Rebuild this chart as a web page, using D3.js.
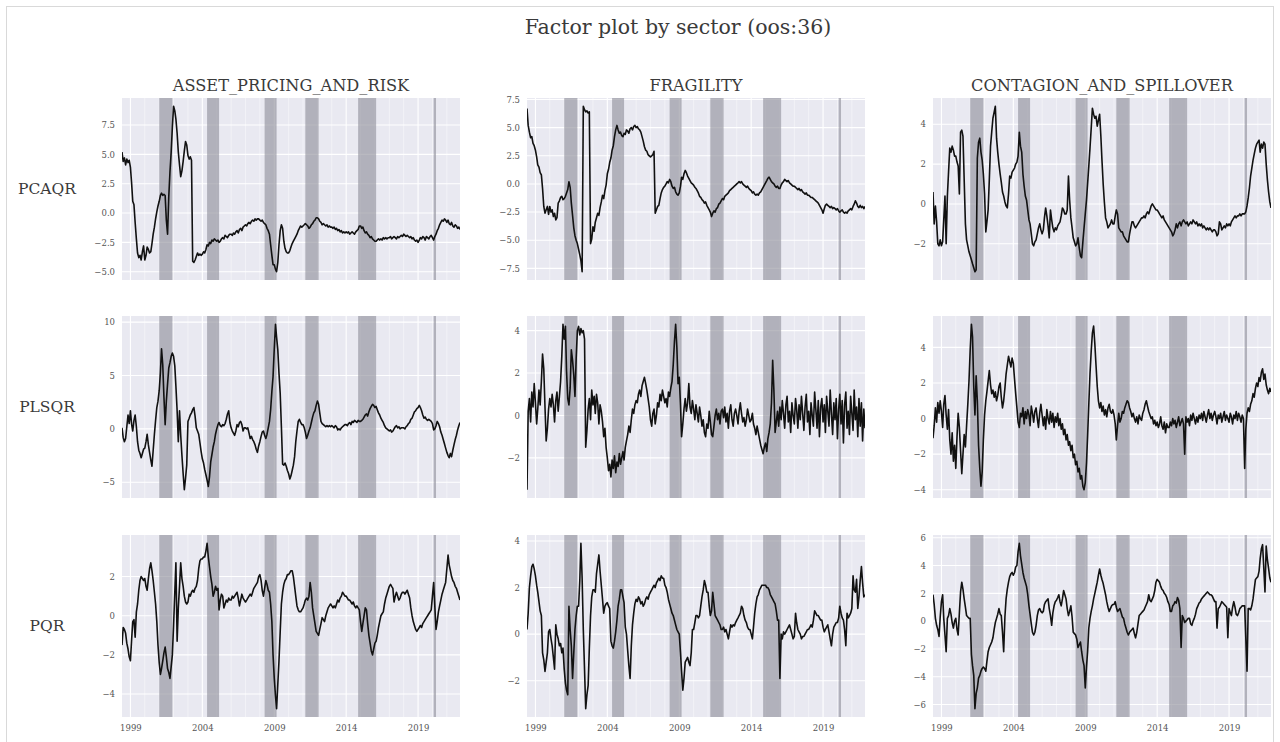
<!DOCTYPE html>
<html>
<head>
<meta charset="utf-8">
<script src="https://cdn.jsdelivr.net/npm/d3@7"></script>
<style>
  body { margin: 0; background: #ffffff; }
  svg { display: block; }
  text { font-family: "DejaVu Serif", "Liberation Serif", serif; }
</style>
</head>
<body>
<svg id="chart" width="1280" height="742"></svg>
<script>
// ---- data -------------------------------------------------------------
const chartTitle = "Factor plot by sector (oos:36)";
const sectors = ["ASSET_PRICING_AND_RISK", "FRAGILITY", "CONTAGION_AND_SPILLOVER"];
const methods = ["PCAQR", "PLSQR", "PQR"];

// monthly observations, first one is June 1998, last one December 2021
const firstMonth = [1998, 5];
const xTickYears = [1999, 2004, 2009, 2014, 2019];

// shaded stress periods
const bandStarts = ["2001-01-01", "2004-05-01", "2008-05-01", "2011-03-01", "2014-11-01", "2020-02-01"];
const bandEnds   = ["2001-12-01", "2005-03-01", "2009-03-01", "2012-02-01", "2016-02-01", "2020-04-01"];

// PCAQR
const pcaqrAsset = [
  5.2, 4.4, 4.7, 4.1, 4.6, 4.3, 4.5,
  3.9, 2.5, 1.0, 0.7, -0.8, -2.2, -3.4, -3.8, -3.6, -4.0, -3.3, -2.8,
  -4.0, -3.6, -2.9, -3.1, -3.4, -3.3, -2.6, -1.8, -1.2, -0.5, 0.1, 0.6,
  1.0, 1.5, 1.7, 1.5, 1.6, 1.5, -0.6, -1.8, 1.4, 3.5, 5.2, 7.3,
  9.1, 8.7, 8.0, 6.8, 5.2, 4.1, 3.1, 3.6, 4.4, 5.3, 6.1, 5.8,
  4.9, 4.6, 4.8, 4.5, -4.1, -4.2, -4.0, -3.7, -3.4, -3.6, -3.5, -3.6,
  -3.5, -3.3, -3.4, -3.1, -2.7, -2.8, -2.5, -2.6, -2.3, -2.4, -2.2, -2.3,
  -2.4, -2.3, -2.5, -2.4, -2.2, -2.1, -2.2, -1.9, -2.0, -2.1, -1.9, -1.8,
  -1.8, -1.9, -1.7, -1.8, -1.6, -1.5, -1.7, -1.4, -1.3, -1.5, -1.2, -1.1,
  -1.0, -1.1, -0.9, -0.8, -0.9, -0.7, -0.6, -0.7, -0.5, -0.6, -0.5, -0.5,
  -0.6, -0.7, -0.6, -0.8, -0.9, -1.0, -1.3, -1.5, -1.8, -2.7, -3.6, -4.4,
  -4.4, -4.8, -5.0, -4.2, -2.7, -1.5, -1.0, -1.3, -2.4, -3.0, -3.3, -3.4,
  -3.4, -3.2, -2.9, -2.6, -2.4, -2.2, -2.0, -1.8, -1.5, -1.3, -1.1, -1.2,
  -1.1, -1.0, -0.9, -1.0, -1.1, -1.3, -1.2, -1.0, -0.9, -0.7, -0.6, -0.4,
  -0.4, -0.5, -0.7, -0.8, -1.0, -0.9, -1.0, -1.1, -1.0, -1.2, -1.1, -1.2,
  -1.2, -1.3, -1.2, -1.4, -1.3, -1.5, -1.4, -1.6, -1.5, -1.7, -1.6, -1.7,
  -1.6, -1.7, -1.6, -1.8, -1.7, -1.6, -1.7, -1.8, -1.6, -1.5, -1.4, -1.1,
  -1.1, -1.3, -1.2, -1.5, -1.7, -1.6, -1.8, -1.9, -2.1, -2.0, -2.2, -2.3,
  -2.4, -2.4, -2.3, -2.2, -2.3, -2.2, -2.3, -2.1, -2.2, -2.1, -2.2, -2.1,
  -2.1, -2.0, -2.2, -2.1, -2.0, -2.1, -2.2, -2.0, -2.1, -2.0, -1.9, -2.0,
  -1.8, -1.9, -2.0, -1.9, -2.0, -2.1, -2.0, -2.2, -2.1, -2.3, -2.4, -2.3,
  -2.5, -2.3, -2.1, -2.2, -2.0, -2.1, -2.3, -2.0, -2.1, -2.2, -2.0, -1.9,
  -2.1, -2.3, -2.0, -1.8, -1.5, -1.3, -1.0, -0.8, -0.6, -0.7, -0.5, -0.6,
  -0.8, -0.6, -0.9, -1.0, -0.8, -1.1, -1.2, -1.0, -1.1, -1.3, -1.2, -1.4
];
const pcaqrFragility = [
  6.7, 5.2, 4.6, 4.1, 4.2, 3.6, 3.4,
  3.0, 2.4, 1.7, 1.5, 1.0, 0.8, -0.4, -2.0, -2.6, -2.3, -2.0, -2.7,
  -2.0, -2.5, -2.3, -2.9, -2.6, -3.2, -3.0, -1.7, -1.5, -1.2, -1.1, -1.4,
  -1.3, -1.1, -0.8, -0.5, 0.2, -0.3, -1.7, -2.8, -3.9, -4.6, -5.0, -5.3,
  -5.8, -6.3, -6.8, -7.8, 6.9, 6.6, 6.4, 6.5, 6.3, 6.4, -5.3, -4.9,
  -3.8, -4.2, -3.4, -3.0, -2.6, -2.8, -2.1, -1.6, -1.0, -1.3, -0.6, -0.1,
  0.9, 1.3, 1.9, 2.3, 3.0, 3.4, 4.2, 4.8, 5.2, 4.8, 4.5, 4.6,
  4.3, 4.2, 4.5, 4.4, 4.8, 4.7, 4.5, 4.9, 5.0, 4.8, 5.1, 5.2,
  5.0, 5.1, 4.9, 4.8, 4.6, 4.2, 3.8, 3.3, 3.0, 2.9, 2.6, 2.5,
  2.4, 2.5, 2.6, 2.9, -2.6, -2.3, -2.0, -1.9, -1.3, -0.8, -0.5, -0.3,
  -0.2, 0.0, 0.2, 0.1, 0.4, 0.2, -0.2, -0.4, -0.3, -0.7, -0.9, -1.0,
  -0.8, -0.2, 0.6, 0.4, 0.9, 1.2, 1.0, 0.7, 0.5, 0.3, 0.1, 0.0,
  -0.1, -0.3, -0.4, -0.6, -0.8, -1.1, -1.2, -1.4, -1.5, -1.7, -1.6, -1.9,
  -2.1, -2.3, -2.5, -2.9, -2.6, -2.4, -2.5, -2.2, -2.1, -1.8, -1.7, -1.5,
  -1.3, -1.4, -1.1, -1.0, -0.9, -0.8, -0.6, -0.5, -0.4, -0.3, -0.2, -0.1,
  0.0, 0.1, 0.2, 0.1, 0.2, 0.0, -0.1, -0.2, -0.3, -0.2, -0.4, -0.5,
  -0.6, -0.8, -0.7, -0.9, -1.0, -0.9, -1.0, -0.8, -0.7, -0.5, -0.3, -0.1,
  0.1, 0.3, 0.5, 0.6, 0.4, 0.2, 0.1, 0.0, -0.2, -0.3, -0.2, -0.4,
  -0.4, -0.1, 0.1, 0.2, 0.4, 0.3, 0.2, 0.3, 0.1, 0.0, -0.1, -0.2,
  -0.2, -0.3, -0.4, -0.5, -0.4, -0.6, -0.5, -0.7, -0.8, -0.9, -0.8, -1.0,
  -1.0, -1.1, -1.2, -1.2, -1.3, -1.4, -1.5, -1.6, -1.7, -1.9, -2.1, -2.3,
  -2.6, -2.2, -1.9, -1.8, -1.9, -2.0, -2.1, -2.0, -2.2, -2.1, -2.2, -2.3,
  -2.2, -2.4, -2.5, -2.4, -2.3, -2.5, -2.6, -2.5, -2.6, -2.4, -2.3, -2.2,
  -2.3, -2.0, -1.8, -1.5, -1.7, -2.0, -2.1, -1.9, -2.1, -2.0, -2.2, -2.0
];
const pcaqrContagion = [
  0.6, -1.0, -0.1, -0.9, -2.0, -2.1, -1.8,
  -2.1, -1.9, -0.8, 0.4, -2.0, 0.4, 1.6, 2.8, 2.6, 2.9, 2.7, 2.4,
  2.4, 2.1, 1.9, 0.5, 3.6, 3.7, 3.4, 1.2, -1.0, -1.8, -2.1, -2.4,
  -2.6, -2.8, -3.0, -3.2, -3.4, -3.3, 2.3, 3.1, 3.3, 2.6, 2.2, 1.5,
  0.5, -1.4, -0.9, -0.3, 1.2, 2.9, 3.6, 4.3, 4.6, 4.9, 3.3, 2.6,
  2.0, 1.5, 1.1, 0.6, 0.4, 0.1, -0.1, -0.2, 0.5, 1.4, 1.3, 1.6,
  1.7, 1.8, 2.0, 2.1, 2.4, 3.6, 2.9, 2.6, 1.5, 0.9, 0.4, 0.2,
  -0.3, -0.8, -1.0, -1.5, -2.0, -2.1, -1.9, -1.8, -1.5, -1.2, -1.0, -1.3,
  -1.5, -1.3, -0.7, -0.2, -0.6, -1.1, -1.7, -0.3, -0.8, -1.2, -1.4, -1.2,
  -1.3, -1.1, -1.0, -0.9, -0.6, -0.2, -0.3, -0.5, -0.5, -0.3, 1.4, 0.2,
  -0.7, -1.2, -1.7, -1.9, -2.1, -2.0, -1.7, -2.2, -2.6, -2.7, -1.9, -1.2,
  -0.5, 0.2, 1.0, 1.9, 2.8, 3.8, 4.8, 4.5, 4.3, 4.4, 3.9, 4.2,
  4.5, 3.4, 2.2, 1.0, 0.1, -0.7, -0.9, -1.2, -1.1, -1.0, -0.8, -1.0,
  -1.0, -0.6, -0.3, -0.5, -1.2, -1.3, -1.4, -1.4, -1.6, -1.7, -1.8, -1.9,
  -1.9, -1.5, -1.2, -0.9, -0.9, -1.1, -1.2, -1.1, -1.0, -0.9, -0.8, -0.7,
  -0.7, -0.6, -0.7, -0.5, -0.4, -0.5, -0.3, -0.1, 0.0, -0.1, -0.2, -0.3,
  -0.3, -0.4, -0.5, -0.6, -0.7, -0.6, -0.8, -0.9, -1.0, -1.1, -1.2, -1.3,
  -1.4, -1.6, -1.5, -1.3, -1.0, -1.2, -1.0, -0.9, -1.1, -0.9, -0.8, -0.9,
  -1.0, -0.9, -1.1, -1.0, -0.9, -1.0, -0.8, -0.9, -1.0, -0.9, -1.1, -1.0,
  -1.1, -1.0, -1.2, -1.1, -1.2, -1.3, -1.2, -1.3, -1.2, -1.3, -1.4, -1.3,
  -1.3, -1.4, -1.6, -1.5, -0.9, -1.0, -1.3, -1.2, -1.1, -1.2, -1.0, -1.1,
  -1.0, -1.1, -0.9, -0.8, -0.7, -0.6, -0.7, -0.6, -0.6, -0.5, -0.6, -0.5,
  -0.5, -0.5, -0.4, -0.1, 0.3, 0.8, 1.4, 1.8, 2.2, 2.5, 2.8, 3.0,
  3.1, 3.2, 2.6, 3.0, 2.8, 3.1, 3.0, 2.0, 1.2, 0.6, 0.1, -0.2
];

// PLSQR
const plsqrAsset = [
  0.1, -0.8, -1.2, -0.9, 0.2, 1.3, 0.5,
  1.7, 0.4, -0.2, 0.8, 1.3, 0.2, -1.2, -2.0, -2.3, -2.7, -2.3, -1.9,
  -1.8, -1.2, -0.5, -1.5, -2.2, -2.9, -3.5, -2.0, -0.5, 0.8, 2.0, 2.6,
  3.6, 5.3, 7.5, 6.0, 3.0, 0.4, 2.6, 4.2, 5.7, 6.2, 6.8, 7.1,
  6.8, 5.9, 4.0, 1.7, -1.2, 1.7, -0.6, -2.5, -4.2, -5.7, -4.6, -3.4,
  0.7, 1.0, 1.3, 1.5, 1.8, 2.0, 1.2, 0.1, -0.2, -0.5, -1.3, -2.1,
  -2.8, -3.2, -3.8, -4.3, -4.8, -5.4, -4.5, -3.1, -2.4, -1.7, -1.2, -0.5,
  0.0, 0.4, 0.6, 0.3, 0.2, 0.4, 0.3, 0.5, 0.9, 1.4, 1.7, 0.6,
  0.1, -0.2, -0.4, -0.6, -0.2, 0.4, 0.2, 0.6, 0.7, 0.4, -0.2, 0.1,
  0.1, 0.0, 0.1, -0.4, -0.9, -0.7, -1.0, -1.2, -1.5, -1.9, -2.2, -1.6,
  -1.2, -0.7, -0.3, -0.2, -0.6, -0.9, -0.5, 0.1, 0.7, 1.8, 3.5, 4.9,
  7.5, 9.8, 8.6, 7.4, 5.2, 3.3, 0.2, -3.3, -3.4, -3.2, -3.5, -3.9,
  -4.2, -4.7, -4.4, -3.9, -3.4, -2.6, -1.2, -0.2, 0.7, 0.9, 0.6, 0.4,
  0.4, 0.1, -0.3, -0.9, -0.6, -0.2, 0.1, 0.6, 1.1, 1.5, 1.7, 2.2,
  2.6, 2.3, 1.5, 0.7, 0.5, 0.4, 0.3, 0.2, 0.3, 0.2, 0.3, 0.2,
  0.3, 0.2, 0.1, 0.3, 0.2, -0.1, 0.0, -0.1, 0.1, 0.2, 0.3, 0.4,
  0.4, 0.3, 0.5, 0.6, 0.4, 0.7, 0.6, 0.8, 0.7, 0.6, 0.8, 0.7,
  0.7, 0.8, 0.9, 1.1, 1.3, 1.4, 1.2, 1.6, 1.9, 2.1, 2.3, 2.2,
  2.0, 2.1, 1.8, 1.5, 1.3, 1.0, 0.8, 0.6, 0.3, 0.1, 0.0, -0.1,
  -0.2, -0.1, -0.3, -0.2, 0.0, 0.2, 0.3, 0.1, 0.2, 0.0, 0.1, 0.1,
  0.1, 0.0, 0.2, 0.3, 0.5, 0.6, 0.9, 1.0, 1.3, 1.6, 1.7, 1.9,
  2.0, 2.2, 2.0, 1.7, 1.3, 1.0, 1.1, 0.9, 0.8, 0.9, 0.8, 0.7,
  0.5, -0.1, 0.0, 0.3, 0.7, 0.5, 0.2, -0.3, -0.6, -1.0, -1.4, -1.8,
  -2.2, -2.5, -2.7, -2.3, -2.6, -2.0, -1.5, -1.0, -0.6, -0.1, 0.3, 0.6
];
const plsqrFragility = [
  -3.5, 0.2, 0.8, -0.3, 1.1, 0.4, 1.5,
  0.6, -0.4, 0.3, 1.2, 0.5, 1.6, 2.9, 2.2, 0.4, -1.2, -0.6, 0.3,
  0.8, 0.4, 1.0, 0.5, -0.3, 0.7, 1.1, 0.2, 0.9, 1.6, 2.8, 4.3,
  3.6, 4.2, 2.1, 0.8, 0.5, 1.3, 3.1, 2.6, 1.9, 0.9, 2.7, 4.0,
  4.2, 3.8, 4.1, 3.9, 4.0, 3.6, -1.5, -0.7, 0.3, 0.8, -0.2, 1.2,
  0.5, 0.9, 0.1, 1.0, 0.6, -0.4, 0.5, 0.2, -0.3, -1.0, -0.6, -1.5,
  -2.0, -2.6, -2.3, -2.9, -2.1, -2.5, -1.9, -2.7, -2.2, -2.4, -1.8, -2.3,
  -2.0, -1.7, -2.1, -1.5, -1.2, -0.9, -0.5, -0.8, -0.2, 0.3, 0.1, 0.5,
  0.7, 0.6, 1.0, 1.2, 0.9, 1.4, 1.6, 1.8, 1.5, 1.2, 0.8, 0.4,
  -0.2, -0.5, 0.1, 0.3, -0.4, 0.0, 0.6, 0.4, 1.0, 0.7, 1.2, 0.9,
  0.6, 0.8, 0.4, 1.1, 0.9, 1.3, 1.6, 2.4, 3.5, 4.3, 3.2, 1.5,
  1.8, 0.5, -1.0, -0.4, 0.3, 0.8, 0.2, 0.6, 1.5, 0.4, 0.1, 0.7,
  0.3, -0.2, 0.5, 0.1, -0.3, 0.4, 0.0, -0.5, -0.2, -0.8, -1.0, -0.4,
  -0.6, 0.2, -0.3, -0.9, -1.0, -0.5, 0.0, 0.3, -0.2, 0.1, -0.4, 0.2,
  0.3, -0.1, 0.4, -0.3, 0.1, -0.6, 0.2, 0.5, -0.2, -0.5, 0.1, 0.3,
  0.0, -0.4, 0.2, 0.6, 0.1, -0.3, -0.1, -0.5, -0.2, 0.3, 0.0, -0.3,
  -0.2, 0.1, -0.4, -0.6, -0.9, -0.5, -0.8, -1.1, -1.4, -1.6, -1.8, -1.5,
  -1.3, -1.7, -1.1, -0.8, -0.4, 0.6, 2.6, 1.2, -0.8, -0.3, 0.2, -0.5,
  0.4, -0.2, 0.7, 0.1, -0.6, 0.5, 0.9, -0.3, 0.2, -0.8, 0.6, 0.0,
  -0.4, 0.8, 0.3, -0.6, 0.5, -0.2, 0.9, 0.1, -0.7, 0.4, 1.0, -0.3,
  0.2, -0.9, 0.6, 0.0, -0.5, 1.1, 0.3, -0.6, 0.7, -1.0, 0.4, 0.8,
  -0.3, 0.5, -0.8, 0.9, 0.2, -0.5, 1.2, 0.1, -0.9, 0.6, -0.2, 0.8,
  -1.1, 0.3, 1.0, -0.4, 0.7, -1.3, 0.5, 1.1, -0.6, 0.2, -0.9, 0.9,
  0.1, -0.7, 1.2, -0.2, 0.4, -1.0, 0.8, -0.5, 0.6, -1.2, 0.3, -0.6
];
const plsqrContagion = [
  -1.1, -0.4, 0.6, -0.2, 0.9, 0.3, 1.0,
  0.4, -0.5, 0.8, 1.3, 0.2, -0.6, 0.5, -1.2, -2.0, -0.8, -2.4, -1.5,
  -2.8, -1.0, 0.3, -0.5, -1.8, -3.1, -2.0, -0.9, -1.6, -0.4, 0.8, 2.1,
  3.9, 5.3, 4.6, 1.8, 0.2, 2.4, 1.0, -1.5, -2.8, -3.8, -3.0, -1.2,
  0.2, 1.0, 1.5, 2.1, 2.7, 1.9, 1.4, 1.6, 1.2, 1.5, 1.0, 1.3,
  1.8, 2.0, 1.2, 0.6, 1.0, 1.7, 2.5, 3.0, 3.5, 3.2, 2.9, 3.4,
  3.1, 2.2, 1.4, 0.6, -0.2, -0.5, 0.3, 0.1, 0.6, -0.3, 0.4, 0.0,
  0.5, 0.2, -0.4, 0.7, 0.3, -0.2, 0.4, 0.6, 0.0, -0.5, 0.3, 0.8,
  0.2, -0.4, 0.1, -0.6, 0.5, 0.0, -0.3, 0.4, -0.2, 0.3, -0.5, 0.1,
  -0.2, 0.3, -0.4, 0.0, -0.6, -0.3, -0.9, -0.6, -1.2, -0.9, -1.5, -1.3,
  -1.8, -1.5, -2.2, -2.0, -2.6, -2.4, -3.0, -2.8, -3.4, -3.2, -3.8, -4.0,
  -3.6, -2.5, -1.0, 0.8, 2.5, 3.8, 4.8, 5.2, 4.2, 3.0, 1.8, 1.0,
  0.6, 0.9, 0.4, 0.7, 0.2, 0.5, 0.1, 0.6, 0.8, 0.4, 0.3, 0.5,
  0.2, -0.3, -1.2, -0.4, 0.3, -0.2, 0.0, 0.4, 0.3, 0.6, 0.8, 1.0,
  0.9, 0.6, 0.4, 0.1, 0.3, 0.0, -0.2, 0.1, -0.3, 0.2, 0.0, -0.1,
  0.3, 0.5, 0.8, 1.0, 0.7, 0.4, 0.2, 0.0, 0.1, -0.3, -0.1, -0.4,
  -0.2, -0.5, -0.3, 0.1, -0.4, -0.6, -0.2, -0.8, -0.3, -0.5, -0.5, -0.2,
  -0.4, 0.0, -0.3, -0.1, -0.5, -0.2, 0.1, -0.4, -0.2, 0.0, -0.3, -2.0,
  0.1, -0.2, 0.0, -0.4, 0.2, -0.1, 0.3, 0.0, -0.3, 0.1, -0.2, 0.2,
  0.0, 0.3, -0.1, 0.4, 0.1, -0.2, 0.2, 0.5, 0.0, 0.3, -0.1, 0.2,
  0.4, 0.1, -0.3, 0.2, 0.0, 0.3, -0.2, 0.1, 0.4, -0.1, 0.2, 0.0,
  -0.2, 0.3, 0.1, -0.3, 0.2, 0.0, 0.4, -0.1, 0.3, 0.1, -0.2, 0.2,
  0.0, -2.8, -0.6, 0.3, 0.6, 0.4, 0.8, 1.0, 1.4, 1.2, 1.7, 2.0,
  1.8, 2.3, 2.1, 2.6, 2.8, 2.2, 2.5, 1.9, 1.6, 1.4, 1.7, 1.5
];

// PQR
const pqrAsset = [
  -1.5, -0.6, -0.7, -0.9, -1.4, -1.7, -2.1,
  -2.3, -1.2, -0.3, -0.2, -1.1, 0.2, 0.6, 1.3, 1.8, 2.0, 1.9, 1.8,
  1.9, 1.5, 1.3, 1.9, 2.4, 2.7, 2.3, 1.8, 1.2, 0.6, -0.3, -1.5,
  -2.4, -3.0, -2.7, -2.3, -1.9, -1.6, -2.1, -2.7, -2.9, -3.2, -2.6, -2.0,
  -0.5, 1.2, 2.7, -1.3, 0.4, 1.5, 2.7, 1.9, 1.5, 1.0, 0.7, 0.6,
  0.7, 1.1, 1.0, 1.2, 1.3, 1.2, 1.4, 1.5, 1.8, 2.4, 2.8, 2.9,
  2.9, 3.0, 3.0, 3.3, 3.7, 3.0, 2.5, 2.0, 1.6, 1.0, 1.2, 1.5,
  1.3, 1.4, 0.3, 0.8, 1.1, 1.0, 0.4, 0.6, 0.8, 0.7, 0.9, 0.8,
  0.8, 1.0, 0.9, 1.0, 1.1, 1.2, 0.9, 0.5, 0.8, 1.1, 0.9, 0.8,
  0.7, 0.8, 0.9, 1.0, 1.1, 1.0, 1.2, 1.4, 1.5, 1.6, 1.7, 2.0,
  2.1, 1.8, 1.3, 1.0, 1.4, 1.8, 1.6, 1.3, 1.2, 0.6, -0.3, -2.0,
  -3.2, -4.1, -4.75, -3.5, -2.3, -0.8, 0.6, 1.2, 1.6, 1.8, 1.9, 2.1,
  2.1, 2.2, 2.3, 2.3, 2.0, 1.5, 1.0, 0.5, 0.3, 0.2, 0.2, 0.3,
  0.4, 0.6, 0.8, 0.9, 0.8, 1.0, 1.7, 1.2, 0.4, 0.0, -0.4, -0.8,
  -0.9, -1.0, -0.7, -0.4, -0.1, -0.2, -0.3, 0.0, 0.2, 0.4, 0.5, 0.6,
  0.5, 0.4, 0.5, 0.4, 0.6, 0.8, 0.7, 0.9, 1.0, 1.2, 1.1, 1.0,
  1.0, 0.9, 0.8, 0.8, 0.7, 0.6, 0.7, 0.5, 0.4, 0.5, 0.4, 0.3,
  -0.3, -0.8, -0.4, 0.0, 0.4, 0.3, -0.4, -1.0, -1.4, -1.8, -2.0, -1.7,
  -1.4, -1.3, -1.0, -0.6, -0.3, 0.0, 0.1, 0.2, 0.6, 0.9, 1.1, 1.3,
  1.5, 1.6, 1.5, 1.4, 0.7, 1.0, 1.2, 1.0, 0.8, 0.9, 1.1, 1.2,
  1.2, 1.1, 1.2, 1.3, 1.1, 0.9, 0.4, 0.0, -0.3, -0.5, -0.7, -0.8,
  -0.7, -0.6, -0.5, -0.6, -0.4, -0.3, -0.2, -0.1, 0.0, 0.1, 0.2, 0.3,
  1.0, 1.7, 0.5, -0.7, -0.3, 0.2, 0.5, 0.8, 1.1, 1.3, 1.5, 1.7,
  2.4, 3.1, 2.6, 2.3, 2.0, 1.8, 1.7, 1.5, 1.4, 1.2, 1.0, 0.8
];
const pqrFragility = [
  0.2, 0.9, 2.0, 2.5, 2.9, 3.0, 2.8,
  2.5, 2.1, 1.8, 1.4, 1.0, 0.8, -0.8, -1.1, -1.6, -1.2, -0.8, 0.1,
  0.2, -0.2, -0.5, -1.0, -1.5, 0.4, 0.0, -0.2, -0.5, -0.4, -0.8, -0.6,
  -1.5, -2.1, -2.4, -2.6, 1.2, 0.2, -0.5, -1.9, -0.8, 0.2, 0.8, 1.2,
  1.2, 2.3, 3.9, 2.4, 0.2, -1.5, -3.2, -2.6, -2.2, -0.6, 0.8, 1.6,
  1.9, 1.9, 1.8, 2.6, 3.0, 3.4, 2.7, 2.1, 1.5, 0.9, 1.2, 1.3,
  1.35, 1.2, 1.1, -0.3, -0.5, -0.6, -0.3, 0.1, 0.6, 1.2, 1.5, 1.9,
  1.9, 1.6, 1.35, 0.3, 0.0, -0.7, -1.35, -1.9, -0.5, 0.4, 0.9, 1.3,
  1.5, 1.4, 1.6, 1.5, 1.3, 1.4, 1.2, 1.3, 1.5, 1.6, 1.5, 1.7,
  1.8, 1.9, 2.0, 2.1, 2.0, 2.2, 2.3, 2.4, 2.3, 2.5, 2.4, 2.4,
  2.1, 2.0, 1.8, 1.5, 1.3, 1.1, 0.9, 0.8, 0.6, 0.4, 0.2, 0.1,
  0.0, -0.8, -1.6, -2.4, -1.9, -1.2, -1.1, -1.0, -1.2, -1.35, -0.8, 0.2,
  0.2, 0.5, 0.8, 0.8, 0.7, 0.8, 1.2, 1.6, 1.9, 2.3, 2.1, 1.8,
  1.8, 1.2, 0.8, 1.0, 1.8, 1.3, 0.8, 0.7, 0.6, 0.5, 0.4, 0.2,
  0.2, 0.3, 0.1, 0.2, 0.0, -0.2, 0.1, 0.4, 0.3, 0.4, 0.35, 0.5,
  0.6, 0.7, 0.8, 0.9, 1.2, 1.1, 0.8, 0.6, 0.5, 0.3, 0.2, 0.2,
  0.0, -0.2, 0.3, 0.9, 1.3, 1.6, 1.7, 1.9, 2.0, 2.1, 2.1, 2.1,
  2.1, 2.0, 2.0, 1.9, 1.7, 1.6, 1.5, 1.4, 1.3, 1.0, 0.6, 0.6,
  -1.9, 0.0, -0.2, 0.1, 0.0, 0.1, 0.2, 0.3, 0.4, 0.2, 0.0, -0.2,
  -0.1, 0.9, 0.5, 0.2, 0.1, 0.0, -0.2, -0.1, -0.1, 0.0, 0.1, 0.2,
  0.2, 0.3, 0.4, 0.3, 0.6, 1.0, 0.9, 0.8, 0.8, 0.7, 0.6, 0.6,
  0.3, 0.1, 0.2, 0.3, 0.4, 0.1, -0.2, -0.5, 0.0, 0.3, 0.4, 0.5,
  0.5, 0.7, 1.2, 0.9, 0.7, 0.6, 0.2, -0.5, 0.9, 0.7, 0.8, 0.9,
  1.1, 2.5, 1.9, 1.8, 2.35, 1.1, 1.6, 2.3, 2.9, 2.2, 1.6, 1.7
];
const pqrContagion = [
  1.9, 1.2, 0.2, -0.3, -0.6, -1.1, 0.3,
  1.4, 1.9, 0.2, -1.0, -2.2, 0.2, 0.4, 0.9, 0.5, -0.1, -0.5, 0.0,
  0.2, -0.6, -1.0, 0.6, 2.1, 2.8, 2.3, 1.6, 1.0, 0.4, 0.3, 0.2,
  0.2, -2.4, -3.2, -3.9, -6.3, -5.2, -4.8, -4.1, -3.9, -3.6, -3.4, -3.3,
  -3.4, -3.6, -2.9, -2.2, -1.9, -1.7, -1.5, -1.2, -0.6, -0.1, 0.2, 0.5,
  0.9, 0.5, 0.4, -0.8, -2.2, 0.3, 1.6, 2.3, 2.8, 3.2, 3.4, 3.5,
  3.3, 3.5, 3.9, 4.0, 5.0, 5.6, 4.7, 4.1, 3.5, 3.1, 2.8, 2.5,
  1.9, 1.1, 0.5, -0.2, -0.8, -1.0, -0.8, -0.3, 0.4, 0.8, 0.9, 0.7,
  0.6, 0.7, 1.2, 1.4, 1.5, 1.6, 0.9, 0.4, -0.3, 0.6, 1.1, 1.4,
  1.5, 1.7, 1.9, 1.4, 1.1, 1.6, 2.2, 1.9, 1.6, 0.9, 0.4, 0.7,
  1.1, 0.3, -0.8, -0.9, -1.0, -1.3, -1.9, -1.7, -1.5, -2.2, -2.8, -3.2,
  -4.8, -3.3, -2.2, -0.5, 0.2, 0.7, 1.1, 1.6, 2.0, 2.4, 2.8, 3.3,
  3.75, 3.3, 3.0, 2.7, 2.3, 1.9, 1.4, 1.0, 0.7, 0.9, 1.1, 1.2,
  1.2, 1.4, 1.0, 0.7, 0.8, 0.9, 0.6, 0.3, 0.2, -0.2, -0.5, -0.8,
  -1.0, -0.8, -0.7, -0.6, -0.5, -0.9, -1.2, -0.8, -0.2, 0.4, 0.5, 0.6,
  0.7, 0.8, 1.0, 1.2, 1.4, 1.9, 1.5, 1.4, 1.6, 1.8, 2.2, 2.8,
  3.0, 2.9, 2.8, 2.5, 2.3, 2.2, 2.0, 1.9, 1.7, 1.4, 1.2, 0.7,
  0.7, 1.1, 1.2, 1.4, 1.3, 1.7, 1.5, 0.9, -1.9, 0.4, 0.2, -0.1,
  0.0, 0.1, 0.2, 0.2, -0.2, -0.3, 0.0, 0.2, 0.5, 0.9, 1.1, 1.3,
  1.4, 1.6, 1.7, 1.8, 1.9, 2.0, 2.1, 2.0, 1.9, 1.9, 1.8, 1.6,
  1.4, 1.4, -0.5, 0.9, 1.0, 1.2, 1.4, 1.3, 1.2, 1.1, 1.0, -1.2,
  0.9, 0.6, 0.4, 1.0, 1.4, 1.0, 0.5, 0.4, 0.6, 0.9, 1.0, 1.1,
  1.1, 1.1, -1.2, -3.6, 0.9, 0.9, 0.8, 1.1, 1.6, 2.3, 3.0, 3.1,
  3.2, 3.6, 4.5, 5.2, 5.5, 3.8, 2.1, 5.4, 4.4, 3.8, 3.1, 2.8
];

// y tick values for each panel, rows = methods, columns = sectors
const yTicksPcaqr = [[-5, -2.5, 0, 2.5, 5, 7.5], [-7.5, -5, -2.5, 0, 2.5, 5, 7.5], [-2, 0, 2, 4]];
const yTicksPlsqr = [[-5, 0, 5, 10], [-2, 0, 2, 4], [-4, -2, 0, 2, 4]];
const yTicksPqr   = [[-4, -2, 0, 2], [-2, 0, 2, 4], [-6, -4, -2, 0, 2, 4, 6]];
const yTickDecimals = [[1, 1, 0], [0, 0, 0], [0, 0, 0]];

// ---- layout -----------------------------------------------------------
const W = 1280, H = 742;
const colLeft = [122, 527, 933];
const rowTop = [98, 316, 535];
const panelW = 338, panelH = 182;

const seriesGrid = [
  [pcaqrAsset, pcaqrFragility, pcaqrContagion],
  [plsqrAsset, plsqrFragility, plsqrContagion],
  [pqrAsset, pqrFragility, pqrContagion]
];
const ticksGrid = [yTicksPcaqr, yTicksPlsqr, yTicksPqr];

const svg = d3.select("#chart");

// outer frame
svg.append("rect")
  .attr("x", 6.5).attr("y", 6.5)
  .attr("width", W - 13).attr("height", H)
  .attr("fill", "#ffffff").attr("stroke", "#d9d9d9");

svg.append("text")
  .attr("x", 678).attr("y", 34)
  .attr("text-anchor", "middle")
  .attr("font-size", 20.5)
  .attr("fill", "#3a3a3a")
  .text(chartTitle);

const startDate = new Date(Date.UTC(firstMonth[0], firstMonth[1], 1));
const parse = d3.utcParse("%Y-%m-%d");

methods.forEach((method, r) => {
  // row label
  svg.append("text")
    .attr("x", 47).attr("y", rowTop[r] + panelH / 2 + 5)
    .attr("text-anchor", "middle")
    .attr("font-size", 15.5)
    .attr("fill", "#3a3a3a")
    .text(method);

  sectors.forEach((sector, c) => {
    const values = seriesGrid[r][c];
    const dates = values.map((_, i) => d3.utcMonth.offset(startDate, i));
    const pts = values.map((v, i) => ({ date: dates[i], value: v }));

    const x = d3.scaleUtc()
      .domain(d3.extent(dates))
      .range([0, panelW]);
    const [lo, hi] = d3.extent(values);
    const pad = (hi - lo) * 0.05;
    const y = d3.scaleLinear()
      .domain([lo - pad, hi + pad])
      .range([panelH, 0]);

    const g = svg.append("g")
      .attr("transform", `translate(${colLeft[c]},${rowTop[r]})`);

    const clipId = `clip-${r}-${c}`;
    g.append("clipPath").attr("id", clipId)
      .append("rect").attr("width", panelW).attr("height", panelH);

    g.append("rect")
      .attr("width", panelW).attr("height", panelH)
      .attr("fill", "#e9e9f1");

    const plot = g.append("g").attr("clip-path", `url(#${clipId})`);

    // yearly vertical grid
    const years = d3.utcYear.range(x.domain()[0], x.domain()[1]);
    plot.selectAll("line.vgrid")
      .data(years)
      .join("line")
      .attr("x1", d => x(d)).attr("x2", d => x(d))
      .attr("y1", 0).attr("y2", panelH)
      .attr("stroke", "#ffffff")
      .attr("stroke-opacity", d => xTickYears.includes(d.getUTCFullYear()) ? 1 : 0.55)
      .attr("stroke-width", d => xTickYears.includes(d.getUTCFullYear()) ? 1.1 : 0.8);

    // horizontal grid
    const ticks = ticksGrid[r][c];
    plot.selectAll("line.hgrid")
      .data(ticks)
      .join("line")
      .attr("x1", 0).attr("x2", panelW)
      .attr("y1", d => y(d)).attr("y2", d => y(d))
      .attr("stroke", "#ffffff").attr("stroke-width", 1.1);

    // shaded periods
    plot.selectAll("rect.band")
      .data(bandStarts.map((s, i) => [parse(s), parse(bandEnds[i])]))
      .join("rect")
      .attr("x", d => x(d[0]))
      .attr("width", d => Math.max(1.5, x(d[1]) - x(d[0])))
      .attr("y", 0).attr("height", panelH)
      .attr("fill", "#8e8e9a").attr("fill-opacity", 0.62);

    // factor line
    plot.append("path")
      .datum(pts)
      .attr("fill", "none")
      .attr("stroke", "#111111")
      .attr("stroke-width", 1.6)
      .attr("stroke-linejoin", "round")
      .attr("d", d3.line().x(d => x(d.date)).y(d => y(d.value)));

    // y axis labels
    const fmt = d3.format(`.${yTickDecimals[r][c]}f`);
    const yAxis = d3.axisLeft(y).tickValues(ticks).tickFormat(fmt).tickSize(0).tickPadding(7);
    const ya = g.append("g").call(yAxis);
    ya.select(".domain").remove();
    ya.selectAll("text")
      .attr("font-family", "DejaVu Serif, serif")
      .attr("font-size", 8.5)
      .attr("fill", "#555555");

    // x axis labels on the bottom row only
    if (r === methods.length - 1) {
      const xAxis = d3.axisBottom(x)
        .tickValues(xTickYears.map(yr => new Date(Date.UTC(yr, 0, 1))))
        .tickFormat(d3.utcFormat("%Y"))
        .tickSize(0).tickPadding(8);
      const xa = g.append("g").attr("transform", `translate(0,${panelH})`).call(xAxis);
      xa.select(".domain").remove();
      xa.selectAll("text")
        .attr("font-family", "DejaVu Serif, serif")
        .attr("font-size", 8.5)
        .attr("fill", "#555555");
    }

    // column titles above the top row
    if (r === 0) {
      svg.append("text")
        .attr("x", colLeft[c] + panelW / 2).attr("y", rowTop[0] - 7)
        .attr("text-anchor", "middle")
        .attr("font-size", 16.2)
        .attr("fill", "#3a3a3a")
        .text(sector);
    }
  });
});
</script>
</body>
</html>
